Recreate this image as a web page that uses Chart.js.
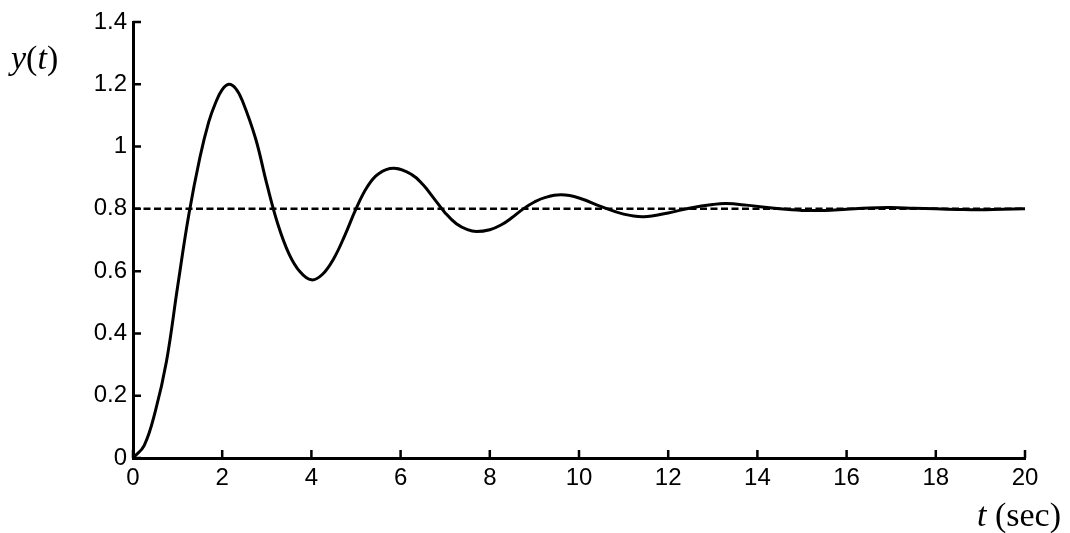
<!DOCTYPE html>
<html lang="en">

<head>
    <meta charset="UTF-8">
    <title>Step response y(t)</title>
    <script src="https://cdn.jsdelivr.net/npm/chart.js"></script>
    <style>
        html, body { margin: 0; padding: 0; background: #fff; }
        .wrap { position: relative; width: 1070px; height: 533px; }
        .eixo { position: absolute; font-family: "Liberation Serif", "Times New Roman", serif; font-size: 34px; color: #000; white-space: nowrap; line-height: 1; }
        #rotuloY { left: 11px; top: 41px; }
        #rotuloX { left: 977px; top: 498px; }
    </style>
</head>

<body>
    <div class="wrap">
        <canvas id="grafico" width="1070" height="533"></canvas>
        <div class="eixo" id="rotuloY"><i>y</i>(<i>t</i>)</div>
        <div class="eixo" id="rotuloX"><i>t</i> (sec)</div>
    </div>
</body>

</html>
<script>
    // tempo (s) e resposta
    const tempos = [0, 0.25, 0.5, 0.75, 1.0, 1.25, 1.5, 1.7, 1.85, 2.0, 2.15, 2.3, 2.45, 2.75, 3.0, 3.25, 3.5, 3.75, 4.0,
        4.25, 4.5, 4.75, 5.0, 5.25, 5.5, 5.85, 6.25, 6.5, 6.75, 7.0, 7.25, 7.5, 7.7, 8.0, 8.25, 8.5, 8.75,
        9.0, 9.25, 9.6, 10.0, 10.5, 11.0, 11.45, 12.0, 12.5, 13.0, 13.3, 13.75, 14.5, 15.0, 15.5, 16.0,
        16.5, 17.0, 17.5, 18.0, 18.5, 19.0, 19.5, 20];
    const resposta = [0, 0.04, 0.15, 0.31, 0.55, 0.78, 0.965, 1.08, 1.14, 1.183, 1.20, 1.187, 1.148, 1.025, 0.88, 0.75, 0.655, 0.597, 0.572,
        0.59, 0.64, 0.715, 0.80, 0.87, 0.912, 0.93, 0.91, 0.878, 0.833, 0.787, 0.752, 0.733, 0.727, 0.733, 0.748, 0.772, 0.80,
        0.822, 0.837, 0.845, 0.835, 0.807, 0.783, 0.775, 0.787, 0.803, 0.814, 0.817, 0.812, 0.80, 0.795, 0.795, 0.799,
        0.803, 0.804, 0.802, 0.80, 0.798, 0.797, 0.799, 0.80];
    const valorFinal = 0.8;
    const limitesX = [0, 20];
    const limitesY = [0, 1.4];
    const passoX = 2;
    const passoY = 0.2;

    const pontosCurva = tempos.map((t, i) => ({ x: t, y: resposta[i] }));
    const pontosRef = limitesX.map(t => ({ x: t, y: valorFinal }));

    // marcas de escala para dentro do gráfico
    const tracosInternos = {
        id: 'tracosInternos',
        afterDatasetsDraw(chart) {
            const ctx = chart.ctx;
            const area = chart.chartArea;
            const sx = chart.scales.x;
            const sy = chart.scales.y;
            ctx.save();
            ctx.strokeStyle = '#000';
            ctx.lineWidth = 2.5;
            ctx.beginPath();
            sx.ticks.forEach(tk => {
                const px = sx.getPixelForValue(tk.value);
                ctx.moveTo(px, area.bottom);
                ctx.lineTo(px, area.bottom - 8);
            });
            sy.ticks.forEach(tk => {
                const py = sy.getPixelForValue(tk.value);
                ctx.moveTo(area.left, py);
                ctx.lineTo(area.left + 8, py);
            });
            ctx.stroke();
            ctx.restore();
        }
    };

    const fonteTicks = { family: '"Liberation Sans", Arial, sans-serif', size: 24 };

    new Chart(document.getElementById('grafico'), {
        type: 'line',
        data: {
            datasets: [
                {
                    label: 'y(t)',
                    data: pontosCurva,
                    borderColor: '#000',
                    borderWidth: 3,
                    pointRadius: 0,
                    tension: 0.4,
                    fill: false
                },
                {
                    label: 'final',
                    data: pontosRef,
                    borderColor: '#000',
                    borderWidth: 2.5,
                    borderDash: [7, 3.5],
                    pointRadius: 0,
                    fill: false
                }
            ]
        },
        options: {
            responsive: false,
            animation: false,
            layout: { padding: { left: 0, right: 45, top: 22, bottom: 0 } },
            plugins: {
                legend: { display: false },
                tooltip: { enabled: false }
            },
            scales: {
                x: {
                    type: 'linear',
                    min: limitesX[0],
                    max: limitesX[1],
                    ticks: { stepSize: passoX, color: '#000', font: fonteTicks, padding: 6, maxRotation: 0 },
                    grid: { display: false, drawTicks: false },
                    border: { display: true, color: '#000', width: 3 },
                    afterFit: s => { s.height = 75; }
                },
                y: {
                    min: limitesY[0],
                    max: limitesY[1],
                    ticks: {
                        stepSize: passoY, color: '#000', font: fonteTicks, padding: 6,
                        callback: v => Number(v.toFixed(1)).toString()
                    },
                    grid: { display: false, drawTicks: false },
                    border: { display: true, color: '#000', width: 3 },
                    afterFit: s => { s.width = 133; }
                }
            }
        },
        plugins: [tracosInternos]
    });
</script>
